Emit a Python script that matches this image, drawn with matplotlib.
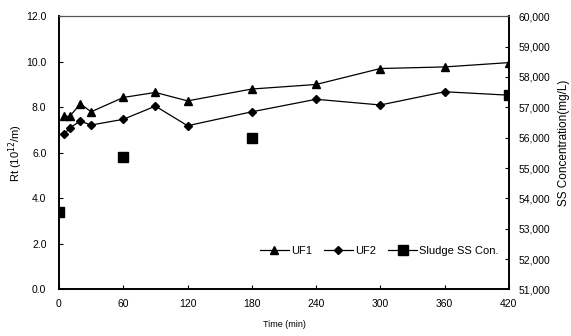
import matplotlib
matplotlib.use("Agg")
import matplotlib.pyplot as plt
from matplotlib.ticker import FuncFormatter

plt.rcParams['font.family'] = ['Liberation Sans Narrow', 'Liberation Sans', 'DejaVu Sans']

time_uf = [5, 10, 20, 30, 60, 90, 120, 180, 240, 300, 360, 420]
uf1 = [7.6, 7.6, 8.15, 7.8, 8.43, 8.65, 8.28, 8.8, 9.0, 9.7, 9.77, 9.96]
uf2 = [6.81, 7.1, 7.39, 7.22, 7.47, 8.05, 7.19, 7.8, 8.35, 8.1, 8.68, 8.53]
time_ss = [0, 60, 180, 420]
sludge_ss = [53540, 55370, 56000, 57400]
xticks = [0, 60, 120, 180, 240, 300, 360, 420]

fig = plt.figure(figsize=(5.71, 3.36), dpi=100)
ax = fig.add_axes([0.1033, 0.1384, 0.788, 0.8136])
ax2 = ax.twinx()

l1, = ax.plot(time_uf, uf1, color='black', lw=0.9, marker='^', ms=5.5, label='UF1')
l2, = ax.plot(time_uf, uf2, color='black', lw=0.9, marker='D', ms=4.2, label='UF2')
l3, = ax2.plot(time_ss, sludge_ss, color='black', lw=0, marker='s', ms=6.5, label='Sludge SS Con.')

ax.set_xlim(0, 420)
ax.set_ylim(0, 12)
ax.set_xticks(xticks)
ax.set_yticks([0, 2, 4, 6, 8, 10, 12])
ax.yaxis.set_major_formatter(FuncFormatter(lambda v, p: f"{v:.1f}"))
ax2.set_ylim(51000, 60000)
ax2.set_yticks(range(51000, 60001, 1000))
ax2.yaxis.set_major_formatter(FuncFormatter(lambda v, p: f"{int(v):,}"))

for a in (ax, ax2):
    a.tick_params(direction='in', length=3, width=0.8, labelsize=7.5, colors='black')
    for s in a.spines.values():
        s.set_color('black')
        s.set_linewidth(1.2)
    a.spines['top'].set_linewidth(0.8)
    a.spines['top'].set_color('#555555')
ax.tick_params(axis='x', pad=7)
ax.tick_params(axis='y', pad=9)
ax2.tick_params(axis='y', pad=7)

ax.set_ylabel('Rt (10$^{12}$/m)', fontsize=8)
ax.yaxis.set_label_coords(-0.0756, 0.5)
ax2.set_ylabel('SS Concentration(mg/L)', fontsize=8.5)
ax2.yaxis.set_label_coords(1.108, 0.535)
ax.set_xlabel('Time (min)', fontsize=6.5)
ax.xaxis.set_label_coords(0.5, -0.112)

leg = ax.legend(handles=[l1, l2, l3], loc='lower right', bbox_to_anchor=(0.995, 0.095),
                ncol=3, frameon=False, fontsize=8, handlelength=2.6,
                handletextpad=0.2, columnspacing=1.1, borderaxespad=0.3)
l3_leg = leg.legend_handles[2]
l3_leg.set_linestyle('-')
l3_leg.set_linewidth(0.9)

fig.savefig('out.png', dpi=100)
